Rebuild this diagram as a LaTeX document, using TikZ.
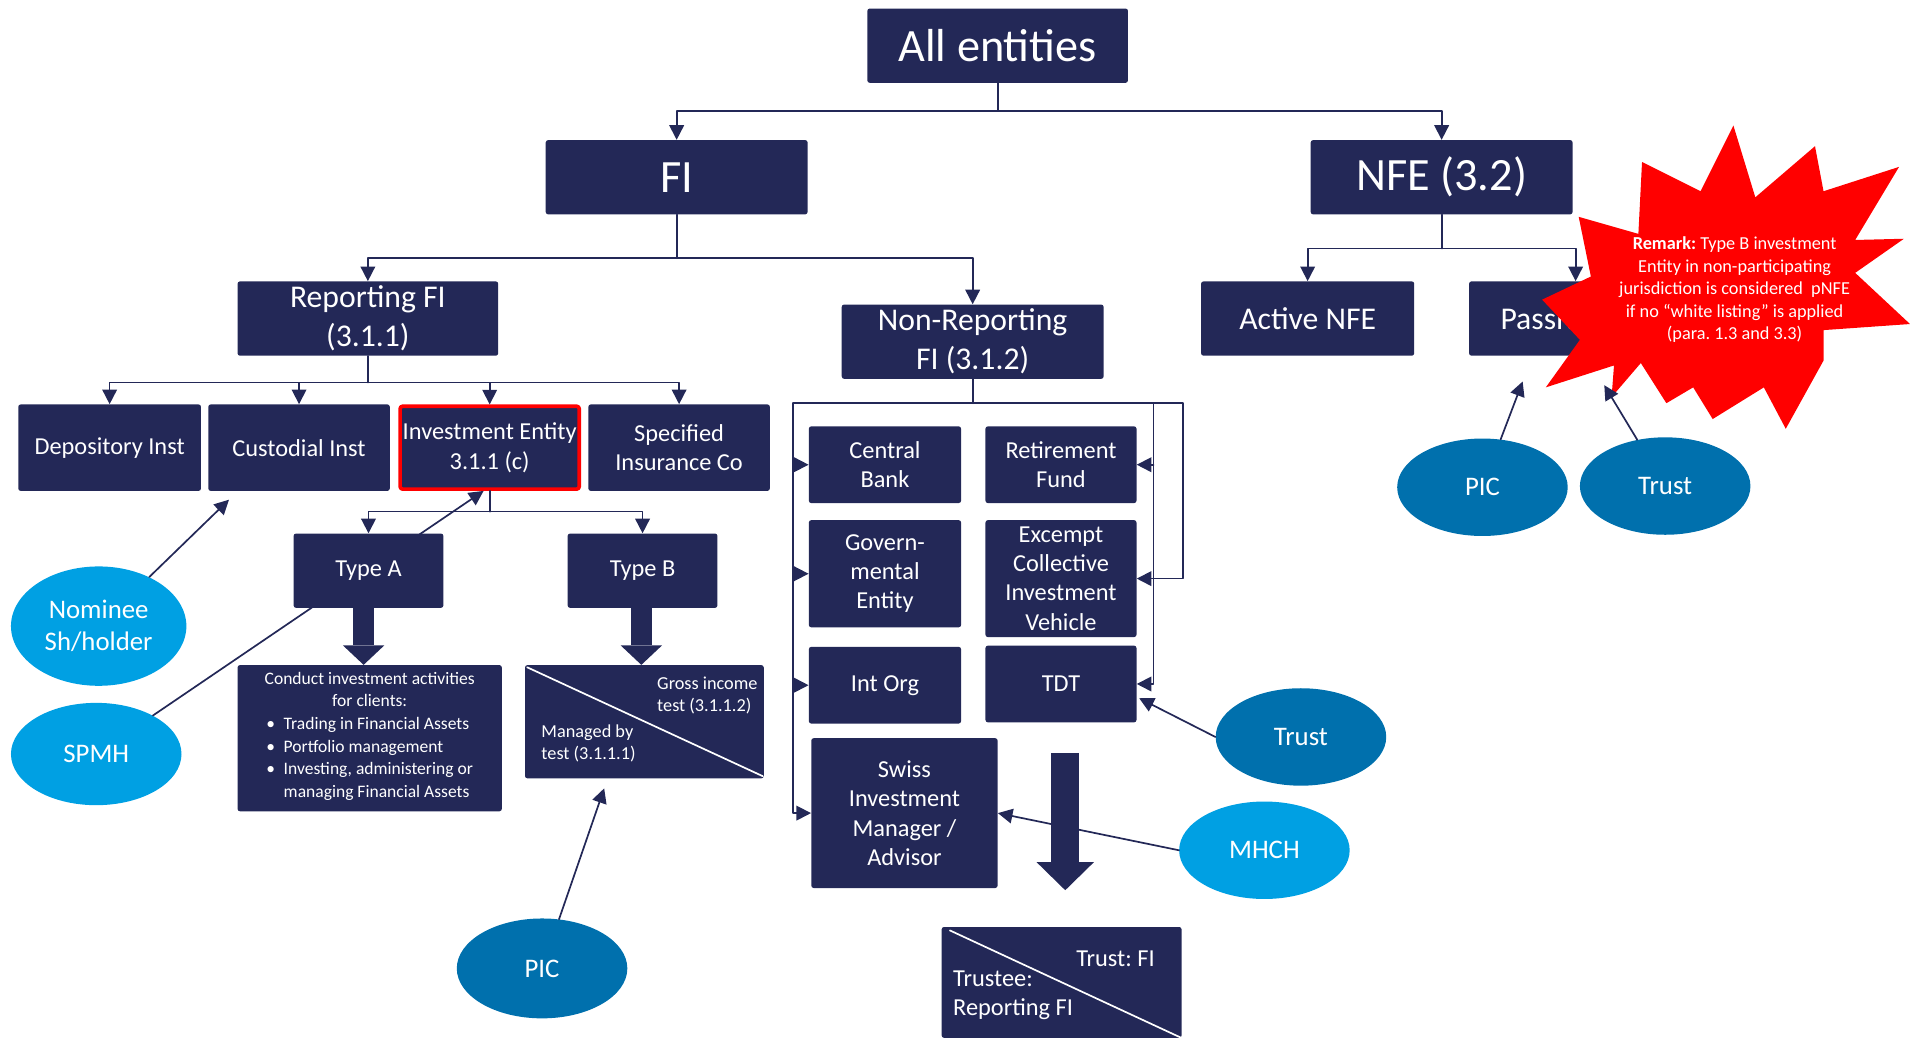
\documentclass[tikz,border=0pt]{standalone}
\usepackage{fontspec}
\setmainfont{Carlito}
\usetikzlibrary{arrows.meta,shapes.geometric}
\frenchspacing

\definecolor{navy}{RGB}{35,40,87}
\definecolor{skyblue}{RGB}{0,160,227}
\definecolor{seablue}{RGB}{0,112,173}

\begin{document}
\begin{tikzpicture}[x=1pt,y=-1pt,line cap=round,line join=round,
    >={Triangle[length=12pt,width=12pt]},
    box/.style={fill=navy,rounded corners=2pt,text=white,align=center,inner sep=0pt},
    wh/.style 2 args={minimum width=#1,minimum height=#2},
    blob/.style={ellipse,text=white,align=center,inner sep=0pt,
      minimum width=140pt,minimum height=80pt,font=\fontsize{22}{26}\selectfont},
    link/.style={draw=navy,line width=1.4pt},
    fat/.style={draw=navy,line width=17pt,line cap=butt,
      -{Triangle[length=16pt,width=34pt,line width=0pt]}},
    fhuge/.style={font=\fontsize{38}{44}\selectfont},
    fbig/.style={font=\fontsize{26}{32}\selectfont},
    fmid/.style={font=\fontsize{20}{24}\selectfont},
    fsmall/.style={font=\fontsize{14.4}{18.6}\selectfont},
    ftest/.style={font=\fontsize{15}{18}\selectfont}]

  \useasboundingbox (0,0) rectangle (1568,852);

  % Top of the tree
  \node[box,fhuge,wh={214pt}{61pt}] (all) at (819,37.5) {All entities};
  \node[box,fhuge,wh={215pt}{61pt}] (fi) at (555.5,145.5) {FI};
  \node[box,fhuge,wh={215pt}{61pt}] (nfe) at (1183.5,145.5) {NFE (3.2)};

  \coordinate (b0) at (819,91);
  \draw[link] (all.south) -- (b0);
  \draw[link,->] (b0) -| (fi.north);
  \draw[link,->] (b0) -| (nfe.north);

  % FI and NFE branches
  \node[box,fbig,wh={214pt}{61pt}] (rfi) at (302,261.5) {Reporting FI\\(3.1.1)};
  \node[box,fbig,wh={215pt}{61pt}] (nrfi) at (798.5,280.5) {Non-Reporting\\FI (3.1.2)};
  \node[box,fbig,wh={175pt}{61pt}] (active) at (1073.5,261.5) {Active NFE};
  \node[box,fbig,wh={175pt}{61pt}] (passive) at (1293.5,261.5) {Passive NFE};

  \coordinate (b1) at (555.5,212);
  \draw[link] (fi.south) -- (b1);
  \draw[link,->] (b1) -| (rfi.north);
  \draw[link,->] (b1) -| (nrfi.north);
  \coordinate (b2) at (1183.5,204);
  \draw[link] (nfe.south) -- (b2);
  \draw[link,->] (b2) -| (active.north);
  \draw[link,->] (b2) -| (passive.north);

  % Reporting FI
  \node[box,fmid,wh={150pt}{71pt}] (dep) at (90,367.5) {Depository Inst};
  \node[box,fmid,wh={149pt}{71pt}] (cust) at (245.5,367.5) {Custodial Inst};
  \node[box,fmid,wh={147pt}{68pt},draw=red,line width=3pt] (inv) at (402,367.5) {Investment Entity\\3.1.1 (c)};
  \node[box,fmid,wh={149pt}{71pt}] (ins) at (557.5,367.5) {Specified\\Insurance Co};

  \coordinate (b3) at (302,314);
  \draw[link] (rfi.south) -- (b3);
  \draw[link,->] (b3) -| (dep.north);
  \draw[link,->] (b3) -| (cust.north);
  \draw[link,->] (b3) -| (inv.north);
  \draw[link,->] (b3) -| (ins.north);

  % Ellipses
  \node[blob,fill=skyblue,wh={144pt}{98pt}] (nominee) at (81,514) {Nominee\\Sh/holder};
  \node[blob,fill=skyblue,wh={140pt}{84pt}] (spmh) at (79,619) {SPMH};
  \node[blob,fill=seablue,wh={140pt}{82pt}] (picb) at (445,795) {PIC};
  \node[blob,fill=seablue] (trustr) at (1068,605) {Trust};
  \node[blob,fill=skyblue] (mhch) at (1038,698) {MHCH};
  \node[blob,fill=seablue] (picn) at (1217,400) {PIC};
  \node[blob,fill=seablue] (trustn) at (1367,399) {Trust};

  \draw[link,->] (nominee) -- ([shift={(-57.5,7)}]cust.south);
  \draw[link,->] (spmh) -- ([shift={(-5,0)}]inv.south);

  % Investment entity types
  \node[box,fmid,wh={123pt}{61pt}] (typea) at (302.5,468.5) {Type A};
  \node[box,fmid,wh={123pt}{61pt}] (typeb) at (527.5,468.5) {Type B};
  \coordinate (b4) at (402,420);
  \draw[link] (inv.south) -- (b4);
  \draw[link,->] (b4) -| (typea.north);
  \draw[link,->] (b4) -| (typeb.north);

  \node[box,fsmall,wh={217pt}{120pt}] (conduct) at (303.5,606)
    {Conduct investment activities\\for clients:\\
     \begin{tabular}[t]{@{}l@{\hspace{7pt}}l@{}}
       \textbullet & Trading in Financial Assets\\
       \textbullet & Portfolio management\\
       \textbullet & Investing, administering or\\
                   & managing Financial Assets
     \end{tabular}};
  \node[box,wh={196pt}{93pt}] (testb) at (529,592.5) {};
  \draw[white,line width=1.4pt] ([shift={(2,2)}]testb.north west) -- ([shift={(-1,-2)}]testb.south east);
  \node[ftest,text=white,anchor=west,align=left] (gross) at (536,571) {Gross income\\test (3.1.1.2)};
  \node[ftest,text=white,anchor=west,align=left] (managed) at (441,610) {Managed by\\test (3.1.1.1)};

  \draw[fat] ([shift={(-4,0)}]typea.south) -- ([shift={(-5,0)}]conduct.north);
  \draw[fat] ([shift={(-1,0)}]typeb.south) -- ([shift={(-2.5,0)}]testb.north);
  \draw[link,->] (picb) -- ([shift={(-33,8)}]testb.south);

  % Non-Reporting FI
  \node[box,fmid,wh={125pt}{63pt}] (cbank) at (726.5,381.5) {Central\\Bank};
  \node[box,fmid,wh={124pt}{63pt}] (retire) at (871,381.5) {Retirement\\Fund};
  \node[box,fmid,wh={125pt}{88pt}] (gov) at (726.5,471) {Govern-\\mental\\Entity};
  \node[box,fmid,wh={124pt}{96pt}] (ecciv) at (871,475) {Excempt\\Collective\\Investment\\Vehicle};
  \node[box,fmid,wh={125pt}{63pt}] (intorg) at (726.5,562.5) {Int Org};
  \node[box,fmid,wh={124pt}{63pt}] (tdt) at (871,561.5) {TDT};
  \node[box,fmid,wh={153pt}{123pt}] (swiss) at (742.5,667.5) {Swiss\\Investment\\Manager /\\Advisor};

  \coordinate (b5) at (798.5,331);
  \coordinate (lb) at (651,331);
  \coordinate (rb) at (947,331);
  \coordinate (ob) at (971,331);
  \draw[link] (nrfi.south) -- (b5);
  \draw[link] (lb) -- (ob);
  \draw[link,->] (lb |- cbank.west) -- (cbank.west);
  \draw[link,->] (lb |- gov.west) -- (gov.west);
  \draw[link,->] (lb |- intorg.west) -- (intorg.west);
  \draw[link,->] (lb) |- (swiss.west);
  \draw[link,->] (rb |- retire.east) -- (retire.east);
  \draw[link,->] (rb) |- (tdt.east);
  \draw[link,->] (ob) |- (ecciv.east);

  % Trust outcome
  \node[box,wh={197pt}{91pt}] (trustfi) at (871.5,806.5) {};
  \draw[white,line width=1.4pt] ([shift={(7,3)}]trustfi.north west) -- (trustfi.south east);
  \node[fmid,text=white,anchor=west] (trustlbl) at (880,787) {Trust: FI};
  \node[fmid,text=white,anchor=west,align=left] (trustee) at (779,817) {Trustee:\\Reporting FI};

  \coordinate (nrout) at (874.5,618);
  \draw[fat,line width=23pt,-{Triangle[length=23pt,width=47pt,line width=0pt]}]
    (nrout) -- ([shift={(3,-30)}]trustfi.north);

  \draw[link,->] (trustr.west) -- ([shift={(2,-20)}]tdt.south east);
  \draw[link,->] (mhch.west) -- (swiss.east);

  % Remark star
  \fill[red] (1348,133) -- (1396,157) -- (1423,103) -- (1441,162) -- (1490,120)
    -- (1497,157) -- (1559,137) -- (1523,197) -- (1563,196) -- (1523,224)
    -- (1568,266) -- (1497,271) -- (1497,296) -- (1466,352) -- (1448,318)
    -- (1406,344) -- (1390,318) -- (1368,331) -- (1347,298) -- (1323,326)
    -- (1325,300) -- (1269,318) -- (1297,279) -- (1266,246) -- (1306,227)
    -- (1296,178) -- (1345,192) -- cycle;
  \node[text=white,align=center,font=\fontsize{15}{18.5}\selectfont] (remark) at (1424,238)
    {\textbf{Remark:} Type B investment\\Entity in non-participating\\jurisdiction is considered\ \ pNFE\\if no “white listing” is applied\\(para. 1.3 and 3.3)};

  \draw[link,->] (picn) -- ([shift={(-43.5,21)}]passive.south);
  \draw[link,->] (trustn) -- ([shift={(23.5,24)}]passive.south);
\end{tikzpicture}
\end{document}
